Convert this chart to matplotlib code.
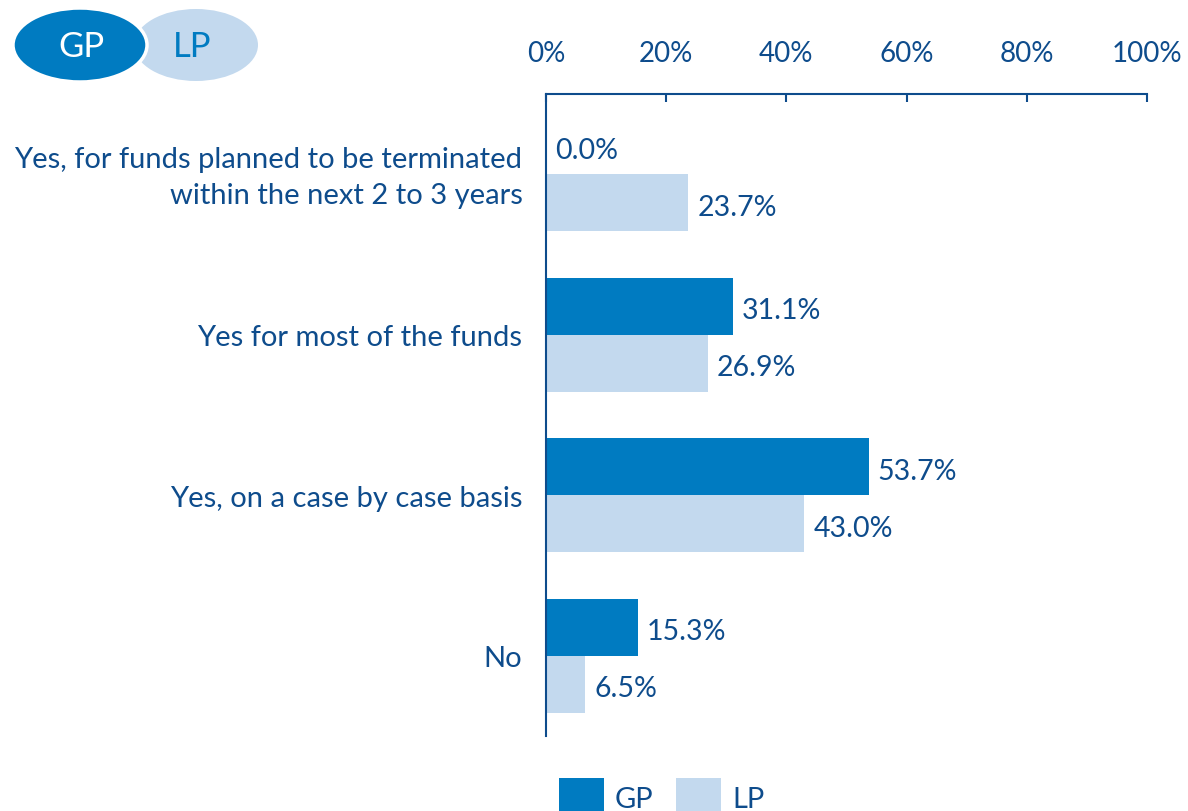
import matplotlib
matplotlib.use("Agg")
import matplotlib.pyplot as plt
import matplotlib.transforms as mtransforms
from matplotlib.patches import Ellipse, Rectangle
import numpy as np

plt.rcParams["font.family"] = ["Lato", "DejaVu Sans"]

categories = [
    "Yes, for funds planned to be terminated\nwithin the next 2 to 3 years",
    "Yes for most of the funds",
    "Yes, on a case by case basis",
    "No",
]
gp_values = [0.0, 31.1, 53.7, 15.3]
lp_values = [23.7, 26.9, 43.0, 6.5]
series_names = ["GP", "LP"]
tick_values = [0, 20, 40, 60, 80, 100]

GP_COLOR = "#007bc1"
LP_COLOR = "#c3d9ee"
TEXT_COLOR = "#0e4c8c"
W, H = 1188, 812

fig = plt.figure(figsize=(W / 100, H / 100), dpi=100)
# axes box in pixels: x 546..1147, y 95..737
ax = fig.add_axes([546 / W, 1 - 737 / H, (1147 - 546) / W, (737 - 95) / H])

y = np.arange(len(categories))
bh = 0.356
ax.barh(y - bh / 2, gp_values, height=bh, color=GP_COLOR, label="GP")
ax.barh(y + bh / 2, lp_values, height=bh, color=LP_COLOR, label="LP")

nudge = 0.025
for yi, v in zip(y, gp_values):
    ax.text(v + 1.5, yi - bh / 2 + nudge, f"{v:.1f}%", va="center", ha="left",
            fontsize=20.5, color=TEXT_COLOR)
for yi, v in zip(y, lp_values):
    ax.text(v + 1.5, yi + bh / 2 + nudge, f"{v:.1f}%", va="center", ha="left",
            fontsize=20.5, color=TEXT_COLOR)

ax.set_xlim(0, 100)
ax.set_ylim(len(categories) - 0.5, -0.5)
ax.xaxis.tick_top()
ax.set_xticks(tick_values)
ax.set_xticklabels([f"{t}%" for t in tick_values])
ax.set_yticks(y)
ax.set_yticklabels(categories, linespacing=1.5)
ax.tick_params(axis="x", colors=TEXT_COLOR, labelsize=20, length=6, width=1.5,
               direction="in", pad=20)
ax.tick_params(axis="y", colors=TEXT_COLOR, labelsize=21, length=0, pad=17)
for lbl in ax.get_xticklabels() + ax.get_yticklabels():
    lbl.set_color(TEXT_COLOR)
for s in ["right", "bottom"]:
    ax.spines[s].set_visible(False)
for s in ["top", "left"]:
    ax.spines[s].set_color(TEXT_COLOR)
    ax.spines[s].set_linewidth(1.5)

# two-line label sits a bit higher in the original
first = ax.get_yticklabels()[0]
first.set_transform(first.get_transform()
                    + mtransforms.ScaledTranslation(0, 5 / 100, fig.dpi_scale_trans))


def px(x, yy):
    return (x / W, 1 - yy / H)


# top-left ellipse badge
lp_ell = Ellipse(px(196, 46), 124 / W, 72 / H, transform=fig.transFigure,
                 facecolor=LP_COLOR, edgecolor="none")
gp_ell = Ellipse(px(80, 46), 134 / W, 74 / H, transform=fig.transFigure,
                 facecolor=GP_COLOR, edgecolor="white", linewidth=2.5)
fig.patches.extend([lp_ell, gp_ell])
fig.text(*px(81, 47), "GP", ha="center", va="center", fontsize=25, color="white")
fig.text(*px(192, 47), "LP", ha="center", va="center", fontsize=25, color=GP_COLOR)

# bottom legend (cut off by the figure edge)
for name, color, x0 in zip(series_names, [GP_COLOR, LP_COLOR], [559, 676]):
    fig.patches.append(Rectangle(px(x0, 824), 45 / W, 45 / H,
                                 transform=fig.transFigure, facecolor=color,
                                 edgecolor="none"))
    fig.text(*px(x0 + 56, 800), name, ha="left", va="center", fontsize=21,
             color=TEXT_COLOR)

fig.savefig("out.png", dpi=100)
